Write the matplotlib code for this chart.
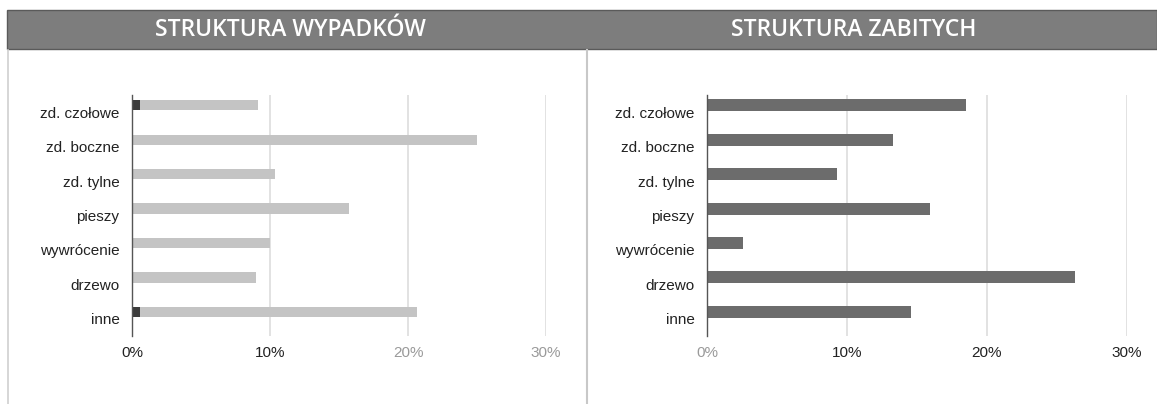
import matplotlib.pyplot as plt
from matplotlib.patches import Rectangle
from matplotlib.lines import Line2D

categories = ["zd. czołowe", "zd. boczne", "zd. tylne", "pieszy",
              "wywrócenie", "drzewo", "inne"]

# struktura wypadkow: small dark part + light part (stacked, in %)
wypadki_dark = [0.6, 0.0, 0.1, 0.0, 0.0, 0.0, 0.6]
wypadki_light = [8.5, 25.0, 10.25, 15.7, 10.0, 9.0, 20.05]

# struktura zabitych (%)
zabici = [18.5, 13.3, 9.3, 15.9, 2.6, 26.3, 14.6]

x_ticks = [0, 10, 20, 30]
x_labels = ["0%", "10%", "20%", "30%"]
left_tick_colors = ["#222222", "#222222", "#9a9a9a", "#9a9a9a"]
right_tick_colors = ["#9a9a9a", "#222222", "#222222", "#222222"]

titles = ["STRUKTURA WYPADKÓW", "STRUKTURA ZABITYCH"]

W, H = 1157, 404
fig = plt.figure(figsize=(W / 100, H / 100), dpi=100)
fig.patch.set_facecolor("white")

def px_rect(x0, y_top, x1, y_bot):
    return [x0 / W, 1 - y_bot / H, (x1 - x0) / W, (y_bot - y_top) / H]

# header band
fig.patches.append(Rectangle((7 / W, 1 - 49 / H), (W - 7) / W, 39 / H,
                             transform=fig.transFigure, facecolor="#7d7d7d",
                             edgecolor="#5a5a5a", lw=1))
fig.text(290 / W, 1 - 30 / H, titles[0], color="white", fontsize=16.5,
         fontweight="semibold", family="Open Sans", ha="center", va="center")
fig.text(854 / W, 1 - 30 / H, titles[1], color="white", fontsize=16.5,
         fontweight="semibold", family="Open Sans", ha="center", va="center")

# frame lines
fig.lines.append(Line2D([8 / W, 8 / W], [0, 1 - 50 / H], transform=fig.transFigure,
                        color="#d0d0d0", lw=1.2))
fig.lines.append(Line2D([587 / W, 587 / W], [0, 1 - 50 / H], transform=fig.transFigure,
                        color="#c8c8c8", lw=1.5))

pos = list(range(len(categories)))
offset = 0.2


def style_axis(ax, tick_colors):
    ax.set_xlim(0, 30)
    ax.set_ylim(len(categories) - 0.5, -0.5)
    ax.set_xticks(x_ticks)
    ax.set_xticklabels(x_labels)
    for lbl, c in zip(ax.get_xticklabels(), tick_colors):
        lbl.set_color(c)
    ax.set_yticks(pos)
    ax.set_yticklabels(categories)
    ax.tick_params(axis="both", length=0, labelsize=11)
    ax.tick_params(axis="x", pad=7)
    ax.tick_params(axis="y", pad=9, labelcolor="#222222")
    for lbl in ax.get_xticklabels() + ax.get_yticklabels():
        lbl.set_family("Liberation Sans")
    for s in ["top", "right", "bottom"]:
        ax.spines[s].set_visible(False)
    ax.spines["left"].set_color("#555555")
    ax.spines["left"].set_linewidth(1.0)
    for t in x_ticks[1:]:
        ax.axvline(t, color="#dddddd", lw=1.2, zorder=0)


ax1 = fig.add_axes(px_rect(132, 95, 546, 336))
bar_y = [p - offset for p in pos]
ax1.barh(bar_y, wypadki_dark, height=0.3, color="#3c3c3c", zorder=2)
ax1.barh(bar_y, wypadki_light, left=wypadki_dark, height=0.3,
         color="#c4c4c4", zorder=2)
style_axis(ax1, left_tick_colors)

ax2 = fig.add_axes(px_rect(707, 95, 1127, 336))
ax2.barh(bar_y, zabici, height=0.35, color="#6c6c6c", zorder=2)
style_axis(ax2, right_tick_colors)

fig.savefig("out.png", dpi=100, facecolor="white")
